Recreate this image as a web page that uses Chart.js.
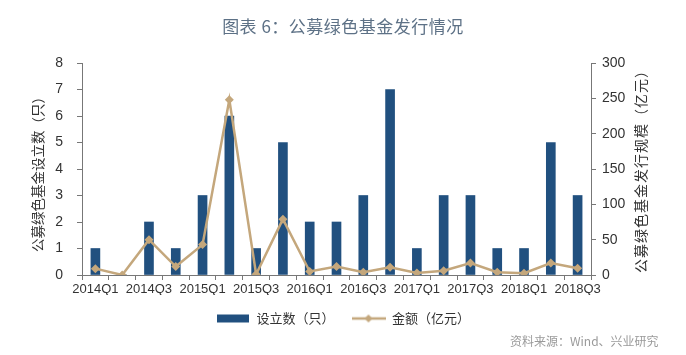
<!DOCTYPE html>
<html><head><meta charset="utf-8">
<script src="https://cdn.jsdelivr.net/npm/chart.js@4"></script>
<style>
html,body{margin:0;padding:0;background:#fff;}
#wrap{position:relative;width:686px;height:355px;overflow:hidden;}
#title{position:absolute;left:0;top:13px;width:686px;text-align:center;font:17px "Noto Sans CJK SC";color:#5d7186;letter-spacing:0.5px;}
#src{position:absolute;left:510px;top:332px;font:12px "Noto Sans CJK SC";color:#9a9a9a;white-space:nowrap;}
canvas{position:absolute;left:0;top:0;}
</style></head>
<body><div id="wrap"><canvas id="c" width="686" height="355"></canvas>
<div id="title">图表 6：公募绿色基金发行情况</div>
<div id="src">资料来源：Wind、兴业研究</div></div>
<script>
const categories = ['2014Q1','2014Q2','2014Q3','2014Q4','2015Q1','2015Q2','2015Q3','2015Q4','2016Q1','2016Q2','2016Q3','2016Q4','2017Q1','2017Q2','2017Q3','2017Q4','2018Q1','2018Q2','2018Q3'];
const fundCount = [1,0,2,1,3,6,1,5,2,2,3,7,1,3,3,1,1,5,3];
const issueAmount = [9,0,50,12,43,248,1,79,5,12,4,11,3,6,17,4,2.5,17,9.5];
const countLabel = '设立数（只）';
const amountLabel = '金额（亿元）';
const leftTitle = '公募绿色基金设立数（只）';
const rightTitle = '公募绿色基金发行规模（亿元）';
const countTicks = [0,1,2,3,4,5,6,7,8];
const amountTicks = [0,50,100,150,200,250,300];

const BAR = '#21507f';
const LINE = '#c4a77c';

function icon(kind){
  const c = document.createElement('canvas');
  c.width = 34; c.height = 10;
  const x = c.getContext('2d');
  if (kind === 'bar') { x.fillStyle = BAR; x.fillRect(1,1,32,8); }
  else {
    x.strokeStyle = LINE; x.lineWidth = 2.5;
    x.beginPath(); x.moveTo(0,5); x.lineTo(34,5); x.stroke();
    x.fillStyle = LINE; x.beginPath(); x.moveTo(17,1); x.lineTo(21,5); x.lineTo(17,9); x.lineTo(13,5); x.closePath(); x.fill();
  }
  return c;
}
const icons = [icon('bar'), icon('line')];

const axisTitles = {
  id: 'axisTitles',
  afterDraw(chart){
    const {ctx, chartArea} = chart;
    const cy = (chartArea.top + chartArea.bottom)/2;
    ctx.save();
    ctx.fillStyle = '#333';
    ctx.font = '13.5px "Noto Sans CJK SC"';
    ctx.textAlign = 'center'; ctx.textBaseline = 'middle';
    ctx.translate(38, cy + 2); ctx.rotate(-Math.PI/2); ctx.fillText(leftTitle, 0, 0);
    ctx.restore();
    ctx.save();
    ctx.fillStyle = '#333';
    ctx.font = '14px "Noto Sans CJK SC"';
    ctx.textAlign = 'center'; ctx.textBaseline = 'middle';
    try { ctx.letterSpacing = '1px'; } catch(e){}
    ctx.translate(641, cy - 1); ctx.rotate(-Math.PI/2); ctx.fillText(rightTitle, 0, 0);
    ctx.restore();
  }
};

new Chart(document.getElementById('c'), {
  type: 'bar',
  data: {
    labels: categories,
    datasets: [
      { type:'bar', label: countLabel, data: fundCount, backgroundColor: BAR, yAxisID:'y', barThickness: 9, order: 2 },
      { type:'line', label: amountLabel, data: issueAmount, borderColor: LINE, backgroundColor: LINE, borderWidth: 2.5,
        pointStyle:'rectRot', pointRadius: 4.5, pointBorderWidth: 0, pointBackgroundColor: LINE, yAxisID:'y1', tension: 0, order: 1 }
    ]
  },
  plugins: [axisTitles],
  options: {
    responsive: false, animation: false,
    layout: { padding: { top: 63, bottom: 20, left: 0, right: 0 } },
    plugins: {
      title: { display: false },
      tooltip: { enabled: false },
      legend: {
        position: 'bottom',
        labels: {
          usePointStyle: true, pointStyleWidth: 34, padding: 17,
          font: { size: 13, family: '"Noto Sans CJK SC"' }, color: '#333',
          generateLabels: chart => chart.data.datasets.map((ds,i)=>({
            text: ds.label, pointStyle: icons[i], datasetIndex: i, hidden: false,
            fillStyle: 'transparent', strokeStyle: 'transparent', lineWidth: 0, fontColor: '#333'
          }))
        }
      }
    },
    scales: {
      x: {
        offset: true,
        grid: { display: true, drawOnChartArea: false, offset: true, tickLength: 5, color: '#777' },
        border: { color: '#777' },
        ticks: { autoSkip: false, maxRotation: 0, minRotation: 0, padding: 2, color: '#333',
          font: { size: 13, family: '"Liberation Sans"' },
          callback: (v, i) => (i % 2 === 0 ? categories[i] : '') },
        afterFit: s => { s.height = 20; }
      },
      y: {
        position: 'left', min: 0, max: 8,
        afterBuildTicks: s => { s.ticks = countTicks.map(v => ({ value: v })); },
        grid: { drawOnChartArea: false, tickLength: 5, color: '#777' },
        border: { color: '#777' },
        ticks: { padding: 14, color: '#333', font: { size: 14, family: '"Liberation Sans"' } },
        afterFit: s => { s.width = 82; }
      },
      y1: {
        position: 'right', min: 0, max: 300,
        afterBuildTicks: s => { s.ticks = amountTicks.map(v => ({ value: v })); },
        grid: { drawOnChartArea: false, tickLength: 5, color: '#777' },
        border: { color: '#777' },
        ticks: { padding: 6, color: '#333', font: { size: 14, family: '"Liberation Sans"' } },
        afterFit: s => { s.width = 95; }
      }
    }
  }
});
</script>
</body></html>
